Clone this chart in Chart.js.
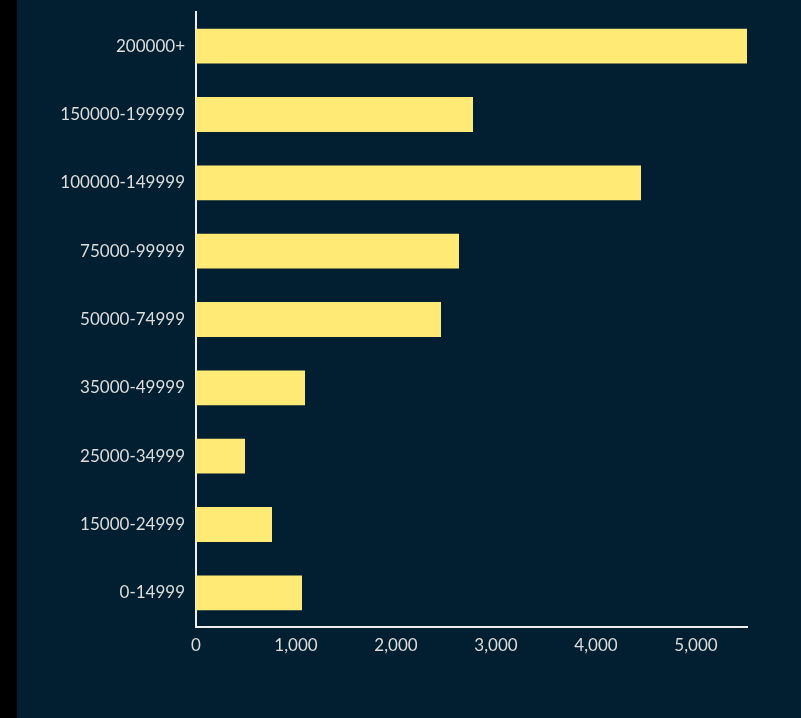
<!DOCTYPE html>
<html>
<head>
<meta charset="utf-8">
<script src="https://cdn.jsdelivr.net/npm/chart.js@4"></script>
<style>
  html, body { margin: 0; padding: 0; background: #000; }
  #wrap { position: absolute; left: 17px; top: 0; width: 784px; height: 718px; background: #011f30; }
</style>
</head>
<body>
<div id="wrap"><canvas id="myChart" width="784" height="718"></canvas></div>
<script>
let labels = ['200000+', '150000-199999', '100000-149999', '75000-99999', '50000-74999',
              '35000-49999', '25000-34999', '15000-24999', '0-14999'];
let counts = [5510, 2770, 4450, 2630, 2450, 1090, 490, 760, 1060];
let xTicks = [0, 1000, 2000, 3000, 4000, 5000];

let chart = document.getElementById('myChart');
let barConfig = {
  type: 'bar',
  data: {
    labels: labels,
    datasets: [{
      data: counts,
      backgroundColor: '#ffea76',
      barPercentage: 0.51,
      categoryPercentage: 1.0
    }]
  },
  options: {
    indexAxis: 'y',
    responsive: false,
    animation: false,
    layout: { padding: { top: 12, right: 54, left: 0, bottom: 0 } },
    plugins: { legend: { display: false }, tooltip: { enabled: false } },
    scales: {
      x: {
        min: 0,
        max: Math.max(...counts),
        afterBuildTicks: function (scale) {
          scale.ticks = xTicks.map(v => ({ value: v }));
        },
        afterFit: function (scale) { scale.height = 91; },
        grid: { display: false, drawTicks: false },
        border: { display: true, color: '#eeeeee', width: 2 },
        ticks: {
          color: '#dddddd',
          padding: 8,
          font: { family: 'Lato', size: 17 },
          callback: function (value) { return value.toLocaleString('en-US'); }
        }
      },
      y: {
        afterFit: function (scale) {
          scale.width = 179;
          scale.paddingTop = 0;
          scale.paddingBottom = 0;
        },
        grid: { display: false, drawTicks: false },
        border: { display: true, color: '#eeeeee', width: 2 },
        ticks: {
          color: '#dddddd',
          padding: 11,
          font: { family: 'Lato', size: 17 }
        }
      }
    }
  }
};
let barChart = new Chart(chart, barConfig);
</script>
</body>
</html>
